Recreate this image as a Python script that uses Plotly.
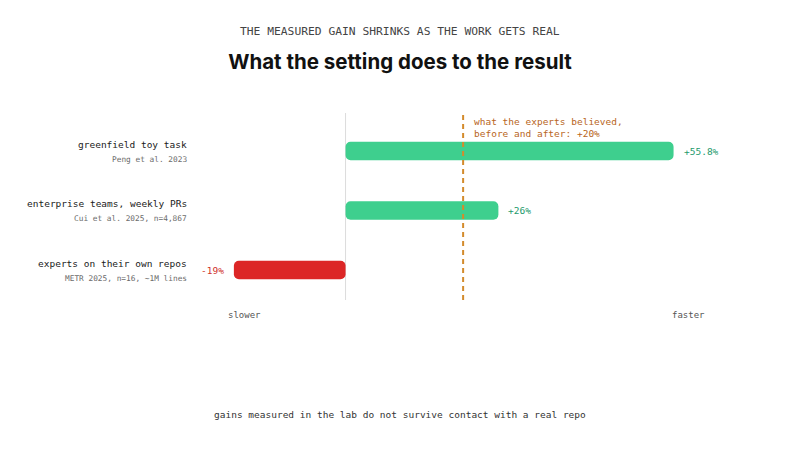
import plotly.graph_objects as go

# study settings, top to bottom
settings = ["greenfield toy task", "enterprise teams, weekly PRs", "experts on their own repos"]
sources = ["Peng et al. 2023", "Cui et al. 2025, n=4,867", "METR 2025, n=16, ~1M lines"]
speedup = [55.8, 26, -19]
value_text = ["+55.8%", "+26%", "-19%"]
believed = 20

GREEN, GREEN_TXT = "#3ecf8e", "#1d9a6c"
RED, RED_TXT = "#dc2626", "#d0322c"
ORANGE, ORANGE_TXT = "#d38b2c", "#b8651c"
MONO = "DejaVu Sans Mono"

# page body has an 8px margin, so the figure is placed 8px right/down
OFF = 8
plot_l, plot_r, plot_t, plot_b = 228 - OFF, 710 - OFF, 113 - OFF, 300 - OFF
pw, ph = plot_r - plot_l, plot_b - plot_t


def px_x(px):
    return (px - OFF - plot_l) / pw


def px_y(py):
    return (plot_b - (py - OFF)) / ph


rows = list(range(len(settings)))
colors = [GREEN if v >= 0 else RED for v in speedup]

fig = go.Figure()

# explicit base -> plotly rounds both ends of the bar
fig.add_trace(go.Bar(
    y=rows, x=speedup, base=[0] * len(speedup),
    orientation="h", marker=dict(color=colors, cornerradius=5, line_width=0),
    width=0.31, hoverinfo="skip", showlegend=False
))

# zero line and belief line
fig.add_shape(type="line", x0=0, x1=0, y0=0, y1=1, xref="x", yref="paper",
              line=dict(color="#dcdcdc", width=1), layer="below")
fig.add_shape(type="line", x0=believed, x1=believed, y0=0, y1=1, xref="x", yref="paper",
              line=dict(color=ORANGE, width=2, dash="5px,4px"))

fig.add_annotation(x=believed, y=px_y(127.5), xref="x", yref="paper", xanchor="left", yanchor="middle",
                   xshift=9, align="left", showarrow=False,
                   text=f"what the experts believed,<br>before and after: +{believed}%",
                   font=dict(family=MONO, size=9.5, color=ORANGE_TXT))

# row labels and value labels
for r, name, src, v, t in zip(rows, settings, sources, speedup, value_text):
    fig.add_annotation(x=0, y=r, xref="paper", yref="y", xanchor="right", yanchor="middle",
                       xshift=-39, yshift=7, showarrow=False, text=name,
                       font=dict(family=MONO, size=9.5, color="#1a1a1a"))
    fig.add_annotation(x=0, y=r, xref="paper", yref="y", xanchor="right", yanchor="middle",
                       xshift=-39, yshift=-8, showarrow=False, text=src,
                       font=dict(family=MONO, size=7.8, color="#6b6b6b"))
    fig.add_annotation(x=v, y=r, xref="x", yref="y", yanchor="middle",
                       xanchor="left" if v >= 0 else "right",
                       xshift=8 if v >= 0 else -8, showarrow=False, text=t,
                       font=dict(family=MONO, size=9.5, color=GREEN_TXT if v >= 0 else RED_TXT))

# axis ends
fig.add_annotation(x=px_x(226), y=px_y(315), xref="paper", yref="paper", xanchor="left",
                   yanchor="middle", showarrow=False, text="slower",
                   font=dict(family=MONO, size=9, color="#555"))
fig.add_annotation(x=px_x(707), y=px_y(315), xref="paper", yref="paper", xanchor="right",
                   yanchor="middle", showarrow=False, text="faster",
                   font=dict(family=MONO, size=9, color="#555"))

# kicker and footer
fig.add_annotation(x=px_x(400), y=px_y(31), xref="paper", yref="paper", yanchor="middle",
                   showarrow=False, text="THE MEASURED GAIN SHRINKS AS THE WORK GETS REAL",
                   font=dict(family=MONO, size=11.3, color="#444"))
fig.add_annotation(x=px_x(400), y=px_y(414), xref="paper", yref="paper", yanchor="middle",
                   showarrow=False,
                   text="gains measured in the lab do not survive contact with a real repo",
                   font=dict(family=MONO, size=9.5, color="#333"))

fig.update_layout(
    width=800, height=450,
    margin=dict(l=plot_l, r=800 - plot_r, t=plot_t, b=450 - plot_b),
    paper_bgcolor="white", plot_bgcolor="white",
    title=dict(text="<b>What the setting does to the result</b>", x=(400 - OFF) / 800,
               xanchor="center", y=1 - (62 - OFF) / 450, yanchor="middle", yref="container",
               xref="container", font=dict(family="Inter", size=20.5, color="#111")),
)
fig.update_xaxes(range=[-20, 62], visible=False, fixedrange=True)
fig.update_yaxes(range=[2.504, -0.639], visible=False, fixedrange=True)

fig.write_html("out.html")
